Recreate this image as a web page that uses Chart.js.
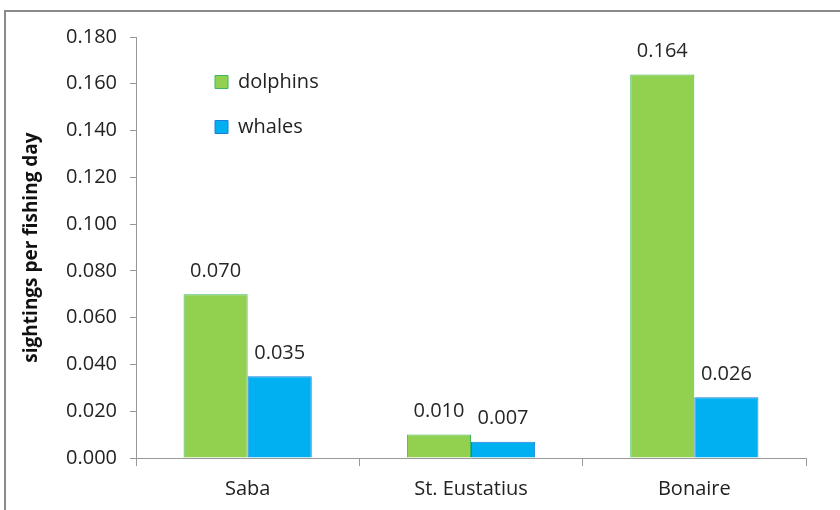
<!DOCTYPE html>
<html>
<head>
<meta charset="utf-8">
<script src="https://cdn.jsdelivr.net/npm/chart.js@4.4.1/dist/chart.umd.min.js"></script>
<style>
  html, body { margin: 0; padding: 0; background: #fff; }
  #frame { position: absolute; left: 4px; top: 10px; width: 900px; height: 600px; border: 2px solid #8a8a8a; box-sizing: border-box; }
  #wrap { position: absolute; left: 0; top: 0; width: 840px; height: 510px; }
</style>
</head>
<body>
<div id="frame"></div>
<div id="wrap"><canvas id="c" width="840" height="510"></canvas></div>
<script>
const categories = ["Saba", "St. Eustatius", "Bonaire"];
const dolphins = [0.070, 0.010, 0.164];
const whales = [0.035, 0.007, 0.026];
const yMin = 0, yMax = 0.18, yStep = 0.02;
const yTitle = "sightings per fishing day";

const FONT = "'Open Sans', 'Noto Sans', sans-serif";

const legendShift = {
  id: 'legendShift',
  afterLayout(chart) {
    const lg = chart.legend;
    if (!lg) return;
    const p = chart.options.plugins.legend.labels.padding;
    lg.left = 215 - p;
    lg.top = 72 - p;
  }
};

const valueLabels = {
  id: 'valueLabels',
  afterDatasetsDraw(chart) {
    const ctx = chart.ctx;
    ctx.save();
    ctx.font = "20px " + FONT;
    ctx.fillStyle = "#262626";
    ctx.textAlign = "center";
    ctx.textBaseline = "middle";
    chart.data.datasets.forEach((ds, di) => {
      const meta = chart.getDatasetMeta(di);
      meta.data.forEach((el, i) => {
        ctx.fillText(ds.data[i].toFixed(3), el.x, el.y - 23);
      });
    });
    ctx.restore();
  }
};

new Chart(document.getElementById('c'), {
  type: 'bar',
  data: {
    labels: categories,
    datasets: [
      { label: 'dolphins', data: dolphins, backgroundColor: '#92D050', borderColor: '#3DB85C', borderWidth: 1 },
      { label: 'whales', data: whales, backgroundColor: '#00B0F0', borderColor: '#1F7FD6', borderWidth: 1 }
    ]
  },
  options: {
    responsive: false,
    animation: false,
    layout: { padding: { left: 20, right: 34, top: 37, bottom: 0 } },
    datasets: { bar: { categoryPercentage: 0.574, barPercentage: 1 } },
    plugins: {
      legend: {
        position: 'chartArea',
        align: 'start',
        labels: { boxWidth: 13, boxHeight: 13, padding: 25, color: '#222', font: { family: FONT, size: 20 } }
      },
      tooltip: { enabled: false },
      title: { display: false }
    },
    scales: {
      x: {
        offset: true,
        grid: { offset: true, drawOnChartArea: false, drawTicks: true, tickLength: 8, color: '#999' },
        border: { color: '#999', width: 1 },
        ticks: { color: '#222', padding: 11, font: { family: FONT, size: 20 } },
        afterFit(s) { s.height = 52; }
      },
      y: {
        min: yMin, max: yMax,
        grid: { drawOnChartArea: false, drawTicks: true, tickLength: 6, color: '#999' },
        border: { color: '#999', width: 1 },
        ticks: { stepSize: yStep, color: '#222', padding: 13, font: { family: FONT, size: 20 },
                 callback: v => Number(v).toFixed(3) },
        title: { display: true, text: yTitle, color: '#111', padding: { top: 0, bottom: 0 }, font: { family: FONT, size: 19, weight: 'bold' } },
        afterFit(s) { s.width = 116; }
      }
    }
  },
  plugins: [legendShift, valueLabels]
});
</script>
</body>
</html>
